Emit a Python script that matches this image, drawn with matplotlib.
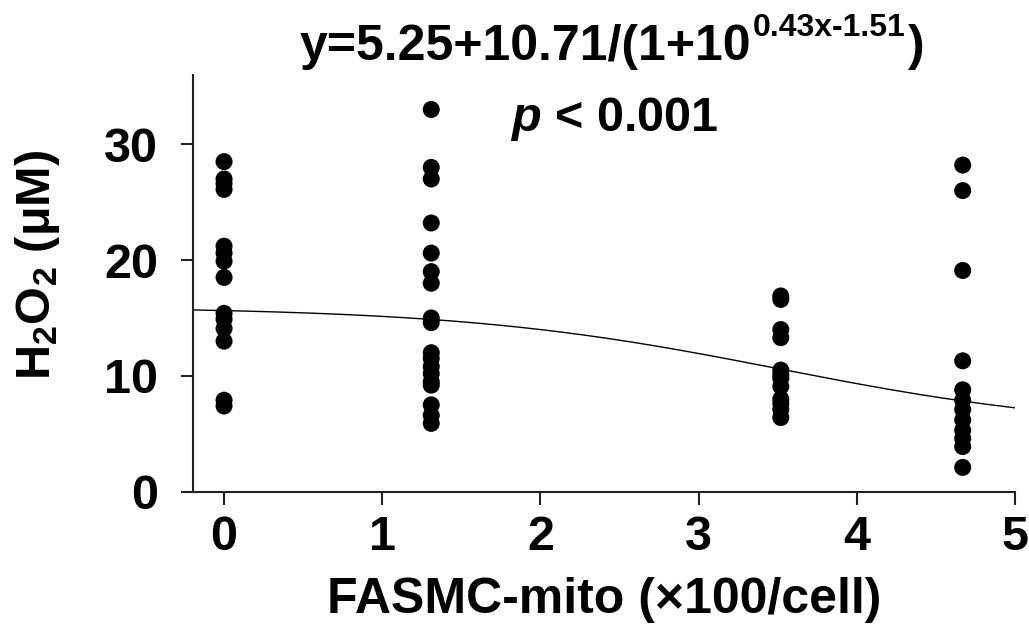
import matplotlib
matplotlib.use('Agg')
import numpy as np
import matplotlib.pyplot as plt

plt.rcParams['font.family'] = ['Liberation Sans', 'DejaVu Sans']
plt.rcParams['font.weight'] = 'bold'
plt.rcParams['mathtext.fontset'] = 'custom'
plt.rcParams['mathtext.rm'] = 'Liberation Sans:bold'
plt.rcParams['mathtext.bf'] = 'Liberation Sans:bold'
plt.rcParams['mathtext.it'] = 'Liberation Sans:bold:italic'

# FASMC-mito levels (x100/cell) and measured H2O2 (uM)
x_levels = [0.0, 1.31, 3.52, 4.67]
h2o2_0 = [28.5, 27.0, 26.6, 26.1, 21.2, 20.6, 19.9, 18.5, 15.4, 14.9, 14.1, 13.0, 7.9, 7.4]
h2o2_1 = [33.0, 28.0, 27.0, 23.2, 20.6, 19.0, 18.0, 15.0, 14.6, 12.0, 11.5, 10.8,
          10.2, 9.5, 9.2, 7.5, 6.6, 5.9]
h2o2_2 = [16.9, 16.6, 14.0, 13.3, 10.5, 10.1, 9.8, 9.1, 8.0, 7.6, 7.1, 6.4]
h2o2_3 = [28.2, 26.0, 19.1, 11.3, 8.8, 7.9, 7.1, 6.2, 5.3, 4.6, 3.9, 2.1]
groups = [h2o2_0, h2o2_1, h2o2_2, h2o2_3]

# fitted sigmoid parameters
a, b, c, d = 5.25, 10.71, 0.43, 1.51

fig = plt.figure(figsize=(10.29, 6.28), dpi=100)
ax = fig.add_axes([0.1873, 0.217, 0.799, 0.664])

for xv, ys in zip(x_levels, groups):
    ax.scatter([xv] * len(ys), ys, s=150, color='k', edgecolors='none', zorder=3)

xs = np.linspace(-0.198, 5.0, 300)
ax.plot(xs, a + b / (1 + 10 ** (c * xs - d)), color='k', lw=1.0, zorder=2)

ax.set_xlim(-0.198, 5.0)
ax.set_ylim(0, 36)
ax.set_xticks([0, 1, 2, 3, 4, 5])
ax.set_yticks([0, 10, 20, 30])
ax.spines['top'].set_visible(False)
ax.spines['right'].set_visible(False)
for s in ['left', 'bottom']:
    ax.spines[s].set_linewidth(1.5)
    ax.spines[s].set_color('#222222')
ax.tick_params(axis='both', labelsize=35, width=1.5, length=9, color='#222222')
ax.tick_params(axis='x', pad=8)
ax.tick_params(axis='y', pad=16)
for lab in ax.get_xticklabels() + ax.get_yticklabels():
    lab.set_fontweight('bold')

ax.set_xlabel('FASMC-mito (×100/cell)', fontsize=36, fontweight='bold', labelpad=12)
ax.set_ylabel(r'$\mathrm{H_2O_2}$ (μM)', fontsize=35, fontweight='bold')
ax.yaxis.set_label_coords(-0.159, 0.544)

# fitted equation: main part, smaller superscript, closing bracket
t_main = fig.text(0.2915, 0.904, 'y=5.25+10.71/(1+10', fontsize=36,
                  fontweight='bold', ha='left', va='baseline')
t_sup = ax.annotate('0.43x-1.51', xy=(1.0, 0.942), xycoords=(t_main, 'figure fraction'),
                    xytext=(1, 0), textcoords='offset points',
                    fontsize=23, fontweight='bold', ha='left', va='baseline',
                    annotation_clip=False)
ax.annotate(')', xy=(1.0, 0.904), xycoords=(t_sup, 'figure fraction'),
            xytext=(2, 0), textcoords='offset points',
            fontsize=36, fontweight='bold', ha='left', va='baseline',
            annotation_clip=False)
fig.text(0.597, 0.81, r'$p$ < 0.001', fontsize=35, fontweight='bold',
         ha='center', va='center')

fig.savefig('out.png', dpi=100)
